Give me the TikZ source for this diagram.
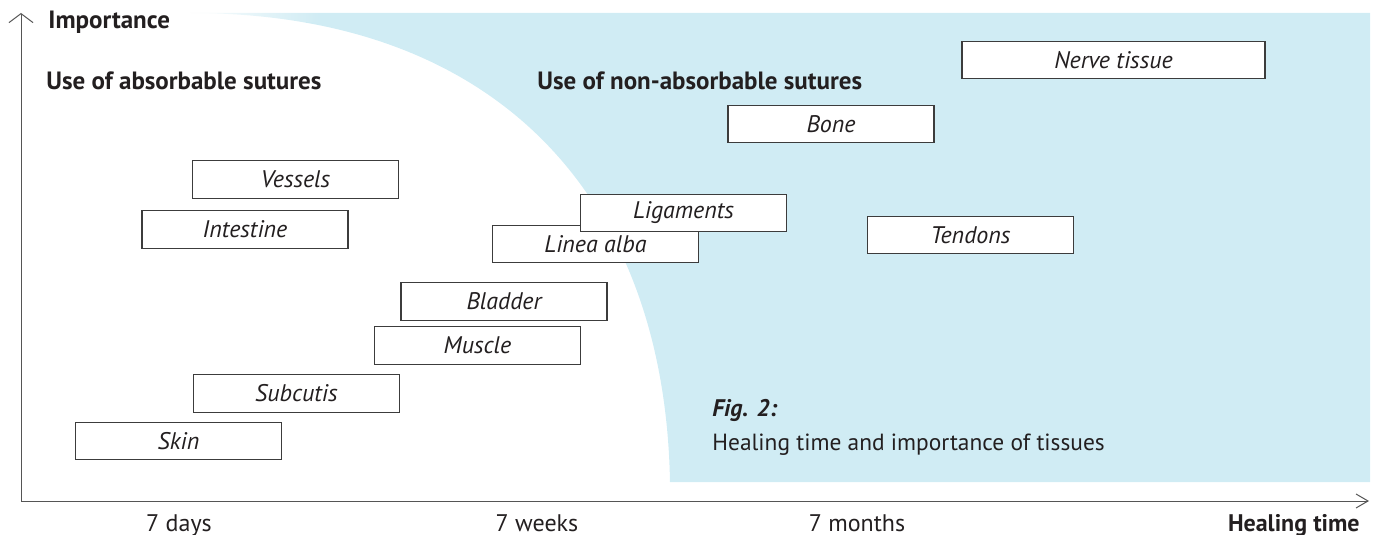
\documentclass[tikz,border=0pt]{standalone}
\usepackage{fontspec}
\setmainfont{PT Sans}
\usetikzlibrary{arrows.meta,fadings}
\definecolor{bluefill}{RGB}{208,236,244}
\definecolor{txt}{RGB}{35,31,32}
\definecolor{boxline}{RGB}{60,60,60}
\definecolor{axiscol}{RGB}{85,85,85}
\tikzfading[name=fadewhite, left color=transparent!0, right color=transparent!100]
\begin{document}
\begin{tikzpicture}[x=0.5pt,y=-0.5pt,
  every node/.style={text=txt, font=\fontsize{12}{14}\selectfont},
  tissue/.style={draw=boxline, line width=0.65pt, fill=white, minimum width=103pt, minimum height=18.75pt, inner sep=0pt, font=\fontsize{12}{14}\selectfont\itshape},
  lbl/.style={inner sep=0pt, anchor=base west},
  boldlbl/.style={lbl, font=\fontsize{12.5}{14}\selectfont\bfseries},
  tick/.style={inner sep=0pt, anchor=base},
  axis/.style={draw=axiscol, line width=0.5pt}]
\useasboundingbox (0,0) rectangle (1373,535);
% non-absorbable region
\fill[bluefill] (1370,13) -- (1370,482) -- (670,482) .. controls (665,200) and (500,13) .. (190,13) -- cycle;
\fill[white, path fading=fadewhite] (180,11) rectangle (320,22);
% axes
\coordinate (O) at (21,501);
\coordinate (Ytip) at (21,13);
\coordinate (Xtip) at (1369,501);
\draw[axis, -{Straight Barb[length=4.5pt,width=12pt]}] (O) -- (Ytip);
\draw[axis, -{Straight Barb[length=6pt,width=7pt]}] (O) -- (Xtip);
% tissues
\node[tissue, minimum width=151.5pt] (nerve) at (1113.5,60) {Nerve tissue};
\node[tissue] (bone) at (831,124) {Bone};
\node[tissue] (vessels) at (295.5,179.5) {Vessels};
\node[tissue] (intestine) at (245,229.5) {Intestine};
\node[tissue] (tendons) at (970.5,235) {Tendons};
\node[tissue] (linea) at (595.5,244) {Linea alba};
\node[tissue] (ligaments) at (683.5,213) {Ligaments};
\node[tissue] (bladder) at (504,301.5) {Bladder};
\node[tissue] (muscle) at (477.5,345.5) {Muscle};
\node[tissue] (subcutis) at (296.5,393.5) {Subcutis};
\node[tissue] (skin) at (178.5,441) {Skin};
% labels
\node[boldlbl] (imp) at (48,29) {Importance};
\node[boldlbl] (abs) at (46,90) {Use of absorbable sutures};
\node[boldlbl] (nonabs) at (537,90) {Use of non-absorbable sutures};
\node[lbl, font=\fontsize{12}{14}\selectfont\bfseries\itshape] (fig) at (712,416) {Fig. 2:};
\node[lbl, font=\fontsize{11.7}{14}\selectfont] (cap) at (712,450) {Healing time and importance of tissues};
\node[tick] (t1) at (179,531) {7 days};
\node[tick] (t2) at (537,531) {7 weeks};
\node[tick] (t3) at (857,531) {7 months};
\node[inner sep=0pt, anchor=base east, font=\fontsize{12}{14}\selectfont\bfseries] (ht) at (1360,531) {Healing time};
\end{tikzpicture}
\end{document}
